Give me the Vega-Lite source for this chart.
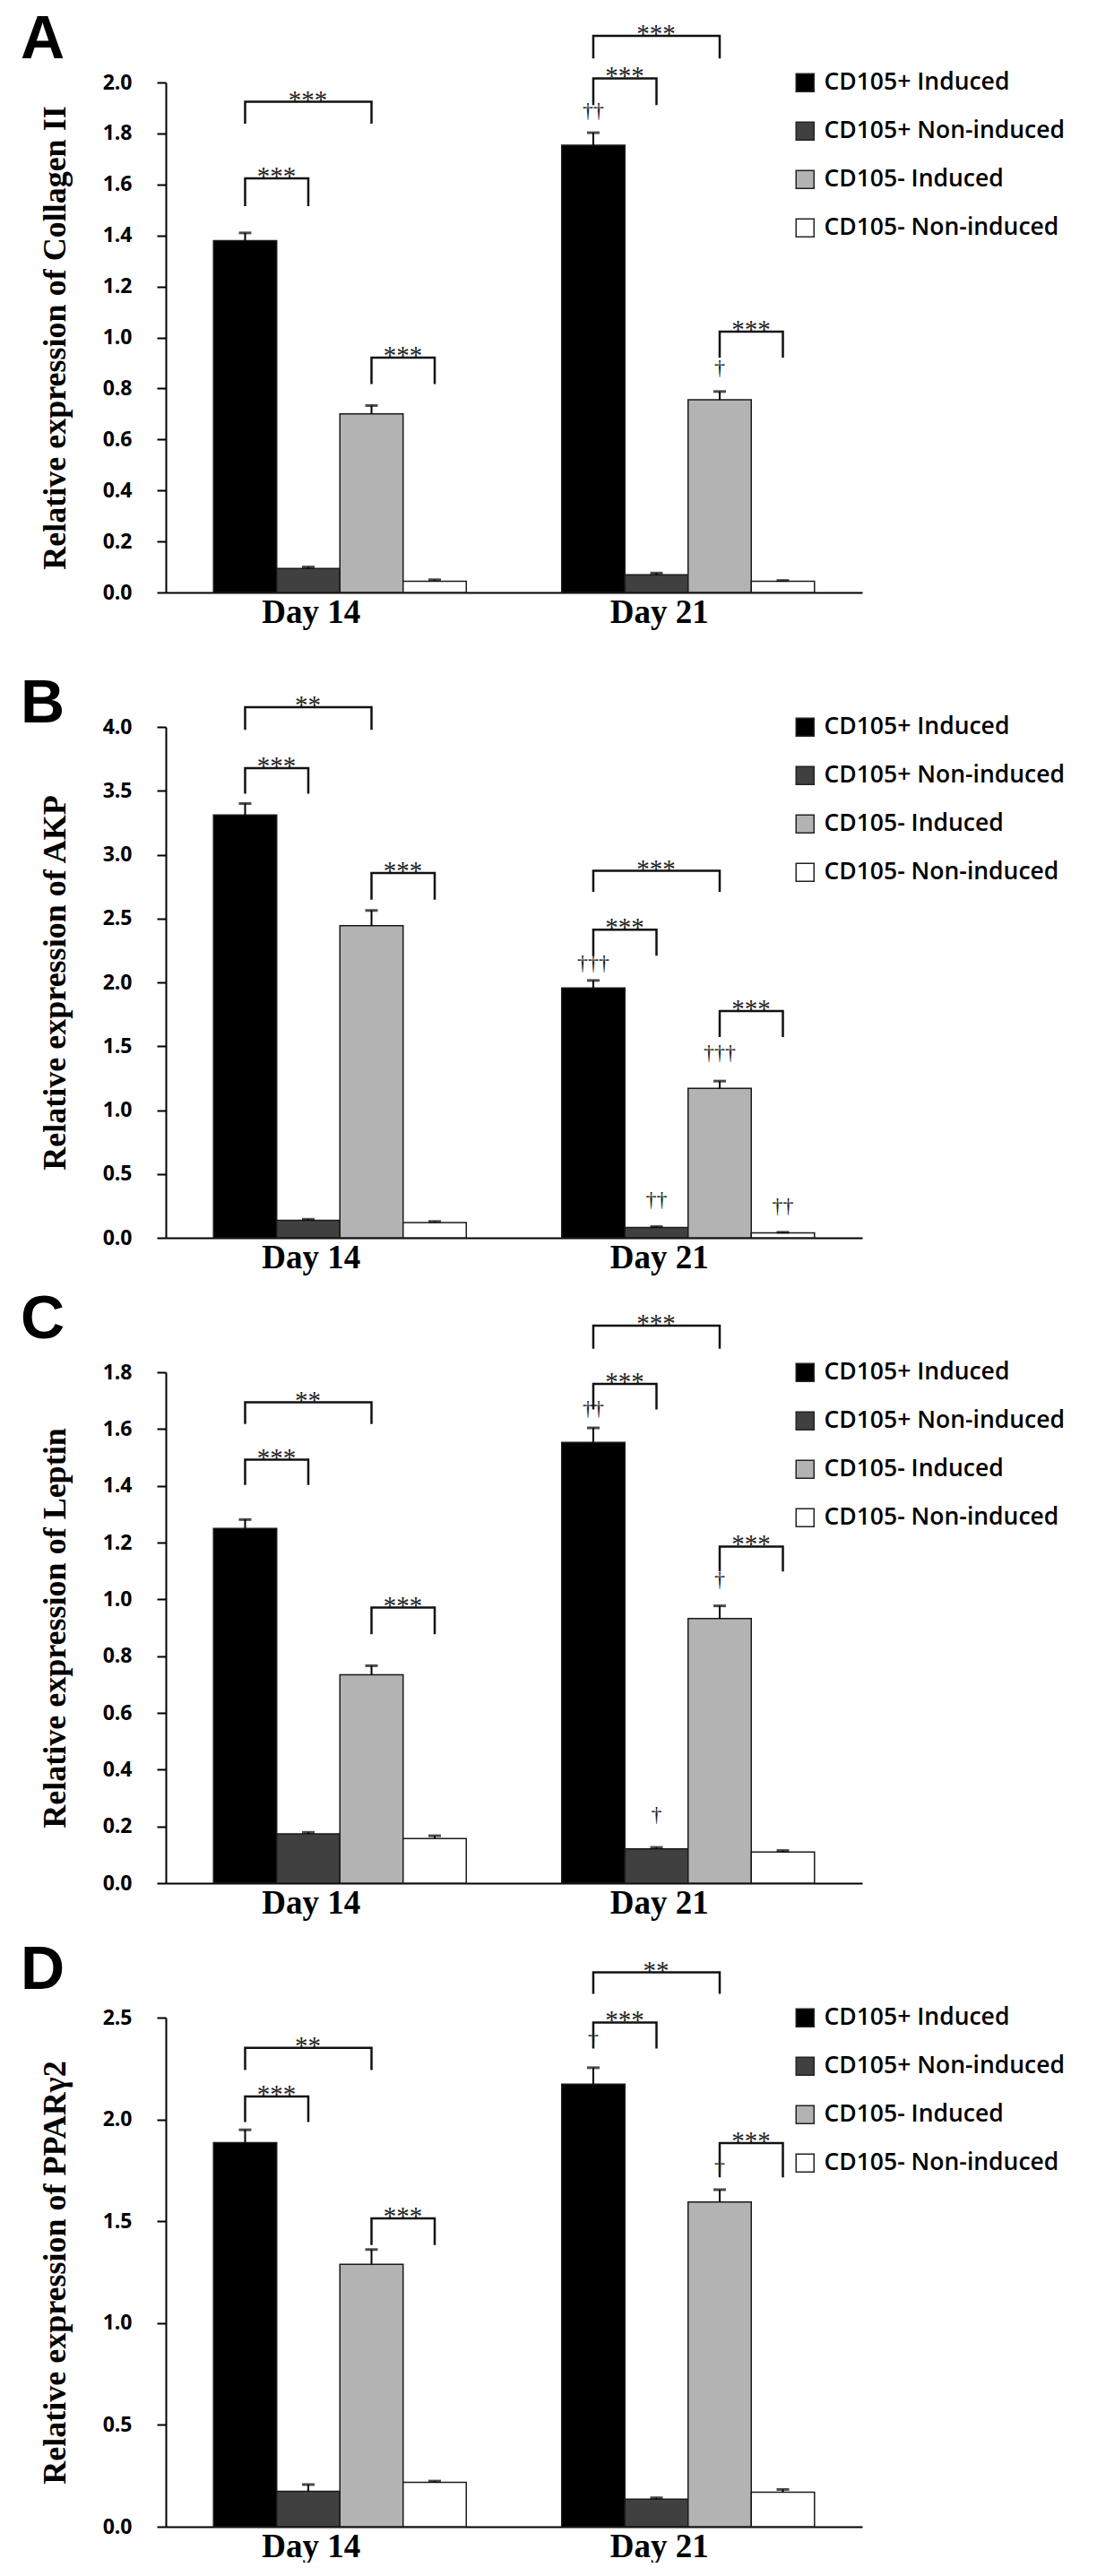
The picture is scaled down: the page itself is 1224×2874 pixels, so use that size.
{
  "$schema": "https://vega.github.io/schema/vega-lite/v6.json",
  "background": "white",
  "padding": {"left": 23, "top": 10, "right": 0, "bottom": 0},
  "datasets": {
    "bars": [
      {"panel": "A", "Day": "Day 14", "Group": "CD105+ Induced", "value": 1.38, "hi": 1.41},
      {"panel": "A", "Day": "Day 14", "Group": "CD105+ Non-induced", "value": 0.094, "hi": 0.1},
      {"panel": "A", "Day": "Day 14", "Group": "CD105- Induced", "value": 0.7, "hi": 0.733},
      {"panel": "A", "Day": "Day 14", "Group": "CD105- Non-induced", "value": 0.044, "hi": 0.05},
      {"panel": "A", "Day": "Day 21", "Group": "CD105+ Induced", "value": 1.754, "hi": 1.803},
      {"panel": "A", "Day": "Day 21", "Group": "CD105+ Non-induced", "value": 0.069, "hi": 0.076},
      {"panel": "A", "Day": "Day 21", "Group": "CD105- Induced", "value": 0.756, "hi": 0.788},
      {"panel": "A", "Day": "Day 21", "Group": "CD105- Non-induced", "value": 0.044, "hi": 0.047},
      {"panel": "B", "Day": "Day 14", "Group": "CD105+ Induced", "value": 3.31, "hi": 3.4},
      {"panel": "B", "Day": "Day 14", "Group": "CD105+ Non-induced", "value": 0.136, "hi": 0.145},
      {"panel": "B", "Day": "Day 14", "Group": "CD105- Induced", "value": 2.444, "hi": 2.563},
      {"panel": "B", "Day": "Day 14", "Group": "CD105- Non-induced", "value": 0.12, "hi": 0.128},
      {"panel": "B", "Day": "Day 21", "Group": "CD105+ Induced", "value": 1.956, "hi": 2.015},
      {"panel": "B", "Day": "Day 21", "Group": "CD105+ Non-induced", "value": 0.081, "hi": 0.088},
      {"panel": "B", "Day": "Day 21", "Group": "CD105- Induced", "value": 1.17, "hi": 1.227},
      {"panel": "B", "Day": "Day 21", "Group": "CD105- Non-induced", "value": 0.039, "hi": 0.043},
      {"panel": "C", "Day": "Day 14", "Group": "CD105+ Induced", "value": 1.25, "hi": 1.281},
      {"panel": "C", "Day": "Day 14", "Group": "CD105+ Non-induced", "value": 0.174, "hi": 0.179},
      {"panel": "C", "Day": "Day 14", "Group": "CD105- Induced", "value": 0.734, "hi": 0.766},
      {"panel": "C", "Day": "Day 14", "Group": "CD105- Non-induced", "value": 0.157, "hi": 0.167},
      {"panel": "C", "Day": "Day 21", "Group": "CD105+ Induced", "value": 1.553, "hi": 1.604},
      {"panel": "C", "Day": "Day 21", "Group": "CD105+ Non-induced", "value": 0.121, "hi": 0.126},
      {"panel": "C", "Day": "Day 21", "Group": "CD105- Induced", "value": 0.932, "hi": 0.977},
      {"panel": "C", "Day": "Day 21", "Group": "CD105- Non-induced", "value": 0.11, "hi": 0.115},
      {"panel": "D", "Day": "Day 14", "Group": "CD105+ Induced", "value": 1.886, "hi": 1.949},
      {"panel": "D", "Day": "Day 14", "Group": "CD105+ Non-induced", "value": 0.174, "hi": 0.207},
      {"panel": "D", "Day": "Day 14", "Group": "CD105- Induced", "value": 1.289, "hi": 1.361},
      {"panel": "D", "Day": "Day 14", "Group": "CD105- Non-induced", "value": 0.218, "hi": 0.224},
      {"panel": "D", "Day": "Day 21", "Group": "CD105+ Induced", "value": 2.173, "hi": 2.254},
      {"panel": "D", "Day": "Day 21", "Group": "CD105+ Non-induced", "value": 0.135, "hi": 0.142},
      {"panel": "D", "Day": "Day 21", "Group": "CD105- Induced", "value": 1.594, "hi": 1.655},
      {"panel": "D", "Day": "Day 21", "Group": "CD105- Non-induced", "value": 0.17, "hi": 0.183}
    ],
    "brackets": [
      {"panel": "A", "Day": "Day 14", "id": "A14a", "Group": "CD105+ Induced", "level": 1.515, "ord": 1},
      {"panel": "A", "Day": "Day 14", "id": "A14a", "Group": "CD105+ Induced", "level": 1.624, "ord": 2},
      {"panel": "A", "Day": "Day 14", "id": "A14a", "Group": "CD105+ Non-induced", "level": 1.624, "ord": 3},
      {"panel": "A", "Day": "Day 14", "id": "A14a", "Group": "CD105+ Non-induced", "level": 1.515, "ord": 4},
      {"panel": "A", "Day": "Day 14", "id": "A14b", "Group": "CD105+ Induced", "level": 1.838, "ord": 1},
      {"panel": "A", "Day": "Day 14", "id": "A14b", "Group": "CD105+ Induced", "level": 1.924, "ord": 2},
      {"panel": "A", "Day": "Day 14", "id": "A14b", "Group": "CD105- Induced", "level": 1.924, "ord": 3},
      {"panel": "A", "Day": "Day 14", "id": "A14b", "Group": "CD105- Induced", "level": 1.838, "ord": 4},
      {"panel": "A", "Day": "Day 14", "id": "A14c", "Group": "CD105- Induced", "level": 0.817, "ord": 1},
      {"panel": "A", "Day": "Day 14", "id": "A14c", "Group": "CD105- Induced", "level": 0.921, "ord": 2},
      {"panel": "A", "Day": "Day 14", "id": "A14c", "Group": "CD105- Non-induced", "level": 0.921, "ord": 3},
      {"panel": "A", "Day": "Day 14", "id": "A14c", "Group": "CD105- Non-induced", "level": 0.817, "ord": 4},
      {"panel": "A", "Day": "Day 21", "id": "A21a", "Group": "CD105+ Induced", "level": 1.911, "ord": 1},
      {"panel": "A", "Day": "Day 21", "id": "A21a", "Group": "CD105+ Induced", "level": 2.016, "ord": 2},
      {"panel": "A", "Day": "Day 21", "id": "A21a", "Group": "CD105+ Non-induced", "level": 2.016, "ord": 3},
      {"panel": "A", "Day": "Day 21", "id": "A21a", "Group": "CD105+ Non-induced", "level": 1.911, "ord": 4},
      {"panel": "A", "Day": "Day 21", "id": "A21b", "Group": "CD105+ Induced", "level": 2.094, "ord": 1},
      {"panel": "A", "Day": "Day 21", "id": "A21b", "Group": "CD105+ Induced", "level": 2.183, "ord": 2},
      {"panel": "A", "Day": "Day 21", "id": "A21b", "Group": "CD105- Induced", "level": 2.183, "ord": 3},
      {"panel": "A", "Day": "Day 21", "id": "A21b", "Group": "CD105- Induced", "level": 2.094, "ord": 4},
      {"panel": "A", "Day": "Day 21", "id": "A21c", "Group": "CD105- Induced", "level": 0.921, "ord": 1},
      {"panel": "A", "Day": "Day 21", "id": "A21c", "Group": "CD105- Induced", "level": 1.023, "ord": 2},
      {"panel": "A", "Day": "Day 21", "id": "A21c", "Group": "CD105- Non-induced", "level": 1.023, "ord": 3},
      {"panel": "A", "Day": "Day 21", "id": "A21c", "Group": "CD105- Non-induced", "level": 0.921, "ord": 4},
      {"panel": "B", "Day": "Day 14", "id": "B14a", "Group": "CD105+ Induced", "level": 3.477, "ord": 1},
      {"panel": "B", "Day": "Day 14", "id": "B14a", "Group": "CD105+ Induced", "level": 3.677, "ord": 2},
      {"panel": "B", "Day": "Day 14", "id": "B14a", "Group": "CD105+ Non-induced", "level": 3.677, "ord": 3},
      {"panel": "B", "Day": "Day 14", "id": "B14a", "Group": "CD105+ Non-induced", "level": 3.477, "ord": 4},
      {"panel": "B", "Day": "Day 14", "id": "B14b", "Group": "CD105+ Induced", "level": 3.977, "ord": 1},
      {"panel": "B", "Day": "Day 14", "id": "B14b", "Group": "CD105+ Induced", "level": 4.155, "ord": 2},
      {"panel": "B", "Day": "Day 14", "id": "B14b", "Group": "CD105- Induced", "level": 4.155, "ord": 3},
      {"panel": "B", "Day": "Day 14", "id": "B14b", "Group": "CD105- Induced", "level": 3.977, "ord": 4},
      {"panel": "B", "Day": "Day 14", "id": "B14c", "Group": "CD105- Induced", "level": 2.647, "ord": 1},
      {"panel": "B", "Day": "Day 14", "id": "B14c", "Group": "CD105- Induced", "level": 2.857, "ord": 2},
      {"panel": "B", "Day": "Day 14", "id": "B14c", "Group": "CD105- Non-induced", "level": 2.857, "ord": 3},
      {"panel": "B", "Day": "Day 14", "id": "B14c", "Group": "CD105- Non-induced", "level": 2.647, "ord": 4},
      {"panel": "B", "Day": "Day 21", "id": "B21a", "Group": "CD105+ Induced", "level": 2.208, "ord": 1},
      {"panel": "B", "Day": "Day 21", "id": "B21a", "Group": "CD105+ Induced", "level": 2.412, "ord": 2},
      {"panel": "B", "Day": "Day 21", "id": "B21a", "Group": "CD105+ Non-induced", "level": 2.412, "ord": 3},
      {"panel": "B", "Day": "Day 21", "id": "B21a", "Group": "CD105+ Non-induced", "level": 2.208, "ord": 4},
      {"panel": "B", "Day": "Day 21", "id": "B21b", "Group": "CD105+ Induced", "level": 2.709, "ord": 1},
      {"panel": "B", "Day": "Day 21", "id": "B21b", "Group": "CD105+ Induced", "level": 2.873, "ord": 2},
      {"panel": "B", "Day": "Day 21", "id": "B21b", "Group": "CD105- Induced", "level": 2.873, "ord": 3},
      {"panel": "B", "Day": "Day 21", "id": "B21b", "Group": "CD105- Induced", "level": 2.709, "ord": 4},
      {"panel": "B", "Day": "Day 21", "id": "B21c", "Group": "CD105- Induced", "level": 1.572, "ord": 1},
      {"panel": "B", "Day": "Day 21", "id": "B21c", "Group": "CD105- Induced", "level": 1.776, "ord": 2},
      {"panel": "B", "Day": "Day 21", "id": "B21c", "Group": "CD105- Non-induced", "level": 1.776, "ord": 3},
      {"panel": "B", "Day": "Day 21", "id": "B21c", "Group": "CD105- Non-induced", "level": 1.572, "ord": 4},
      {"panel": "C", "Day": "Day 14", "id": "C14a", "Group": "CD105+ Induced", "level": 1.403, "ord": 1},
      {"panel": "C", "Day": "Day 14", "id": "C14a", "Group": "CD105+ Induced", "level": 1.492, "ord": 2},
      {"panel": "C", "Day": "Day 14", "id": "C14a", "Group": "CD105+ Non-induced", "level": 1.492, "ord": 3},
      {"panel": "C", "Day": "Day 14", "id": "C14a", "Group": "CD105+ Non-induced", "level": 1.403, "ord": 4},
      {"panel": "C", "Day": "Day 14", "id": "C14b", "Group": "CD105+ Induced", "level": 1.618, "ord": 1},
      {"panel": "C", "Day": "Day 14", "id": "C14b", "Group": "CD105+ Induced", "level": 1.694, "ord": 2},
      {"panel": "C", "Day": "Day 14", "id": "C14b", "Group": "CD105- Induced", "level": 1.694, "ord": 3},
      {"panel": "C", "Day": "Day 14", "id": "C14b", "Group": "CD105- Induced", "level": 1.618, "ord": 4},
      {"panel": "C", "Day": "Day 14", "id": "C14c", "Group": "CD105- Induced", "level": 0.877, "ord": 1},
      {"panel": "C", "Day": "Day 14", "id": "C14c", "Group": "CD105- Induced", "level": 0.971, "ord": 2},
      {"panel": "C", "Day": "Day 14", "id": "C14c", "Group": "CD105- Non-induced", "level": 0.971, "ord": 3},
      {"panel": "C", "Day": "Day 14", "id": "C14c", "Group": "CD105- Non-induced", "level": 0.877, "ord": 4},
      {"panel": "C", "Day": "Day 21", "id": "C21a", "Group": "CD105+ Induced", "level": 1.669, "ord": 1},
      {"panel": "C", "Day": "Day 21", "id": "C21a", "Group": "CD105+ Induced", "level": 1.759, "ord": 2},
      {"panel": "C", "Day": "Day 21", "id": "C21a", "Group": "CD105+ Non-induced", "level": 1.759, "ord": 3},
      {"panel": "C", "Day": "Day 21", "id": "C21a", "Group": "CD105+ Non-induced", "level": 1.669, "ord": 4},
      {"panel": "C", "Day": "Day 21", "id": "C21b", "Group": "CD105+ Induced", "level": 1.883, "ord": 1},
      {"panel": "C", "Day": "Day 21", "id": "C21b", "Group": "CD105+ Induced", "level": 1.964, "ord": 2},
      {"panel": "C", "Day": "Day 21", "id": "C21b", "Group": "CD105- Induced", "level": 1.964, "ord": 3},
      {"panel": "C", "Day": "Day 21", "id": "C21b", "Group": "CD105- Induced", "level": 1.883, "ord": 4},
      {"panel": "C", "Day": "Day 21", "id": "C21c", "Group": "CD105- Induced", "level": 1.098, "ord": 1},
      {"panel": "C", "Day": "Day 21", "id": "C21c", "Group": "CD105- Induced", "level": 1.186, "ord": 2},
      {"panel": "C", "Day": "Day 21", "id": "C21c", "Group": "CD105- Non-induced", "level": 1.186, "ord": 3},
      {"panel": "C", "Day": "Day 21", "id": "C21c", "Group": "CD105- Non-induced", "level": 1.098, "ord": 4},
      {"panel": "D", "Day": "Day 14", "id": "D14a", "Group": "CD105+ Induced", "level": 1.987, "ord": 1},
      {"panel": "D", "Day": "Day 14", "id": "D14a", "Group": "CD105+ Induced", "level": 2.113, "ord": 2},
      {"panel": "D", "Day": "Day 14", "id": "D14a", "Group": "CD105+ Non-induced", "level": 2.113, "ord": 3},
      {"panel": "D", "Day": "Day 14", "id": "D14a", "Group": "CD105+ Non-induced", "level": 1.987, "ord": 4},
      {"panel": "D", "Day": "Day 14", "id": "D14b", "Group": "CD105+ Induced", "level": 2.243, "ord": 1},
      {"panel": "D", "Day": "Day 14", "id": "D14b", "Group": "CD105+ Induced", "level": 2.352, "ord": 2},
      {"panel": "D", "Day": "Day 14", "id": "D14b", "Group": "CD105- Induced", "level": 2.352, "ord": 3},
      {"panel": "D", "Day": "Day 14", "id": "D14b", "Group": "CD105- Induced", "level": 2.243, "ord": 4},
      {"panel": "D", "Day": "Day 14", "id": "D14c", "Group": "CD105- Induced", "level": 1.383, "ord": 1},
      {"panel": "D", "Day": "Day 14", "id": "D14c", "Group": "CD105- Induced", "level": 1.514, "ord": 2},
      {"panel": "D", "Day": "Day 14", "id": "D14c", "Group": "CD105- Non-induced", "level": 1.514, "ord": 3},
      {"panel": "D", "Day": "Day 14", "id": "D14c", "Group": "CD105- Non-induced", "level": 1.383, "ord": 4},
      {"panel": "D", "Day": "Day 21", "id": "D21a", "Group": "CD105+ Induced", "level": 2.348, "ord": 1},
      {"panel": "D", "Day": "Day 21", "id": "D21a", "Group": "CD105+ Induced", "level": 2.476, "ord": 2},
      {"panel": "D", "Day": "Day 21", "id": "D21a", "Group": "CD105+ Non-induced", "level": 2.476, "ord": 3},
      {"panel": "D", "Day": "Day 21", "id": "D21a", "Group": "CD105+ Non-induced", "level": 2.348, "ord": 4},
      {"panel": "D", "Day": "Day 21", "id": "D21b", "Group": "CD105+ Induced", "level": 2.617, "ord": 1},
      {"panel": "D", "Day": "Day 21", "id": "D21b", "Group": "CD105+ Induced", "level": 2.722, "ord": 2},
      {"panel": "D", "Day": "Day 21", "id": "D21b", "Group": "CD105- Induced", "level": 2.722, "ord": 3},
      {"panel": "D", "Day": "Day 21", "id": "D21b", "Group": "CD105- Induced", "level": 2.617, "ord": 4},
      {"panel": "D", "Day": "Day 21", "id": "D21c", "Group": "CD105- Induced", "level": 1.716, "ord": 1},
      {"panel": "D", "Day": "Day 21", "id": "D21c", "Group": "CD105- Induced", "level": 1.884, "ord": 2},
      {"panel": "D", "Day": "Day 21", "id": "D21c", "Group": "CD105- Non-induced", "level": 1.884, "ord": 3},
      {"panel": "D", "Day": "Day 21", "id": "D21c", "Group": "CD105- Non-induced", "level": 1.716, "ord": 4}
    ],
    "stars": [
      {"panel": "A", "Day": "Day 14", "Group": "CD105+ Induced", "span": 1, "level": 1.624, "label": "***"},
      {"panel": "A", "Day": "Day 14", "Group": "CD105+ Induced", "span": 2, "level": 1.924, "label": "***"},
      {"panel": "A", "Day": "Day 14", "Group": "CD105- Induced", "span": 1, "level": 0.921, "label": "***"},
      {"panel": "A", "Day": "Day 21", "Group": "CD105+ Induced", "span": 1, "level": 2.016, "label": "***"},
      {"panel": "A", "Day": "Day 21", "Group": "CD105+ Induced", "span": 2, "level": 2.183, "label": "***"},
      {"panel": "A", "Day": "Day 21", "Group": "CD105- Induced", "span": 1, "level": 1.023, "label": "***"},
      {"panel": "B", "Day": "Day 14", "Group": "CD105+ Induced", "span": 1, "level": 3.677, "label": "***"},
      {"panel": "B", "Day": "Day 14", "Group": "CD105+ Induced", "span": 2, "level": 4.155, "label": "**"},
      {"panel": "B", "Day": "Day 14", "Group": "CD105- Induced", "span": 1, "level": 2.857, "label": "***"},
      {"panel": "B", "Day": "Day 21", "Group": "CD105+ Induced", "span": 1, "level": 2.412, "label": "***"},
      {"panel": "B", "Day": "Day 21", "Group": "CD105+ Induced", "span": 2, "level": 2.873, "label": "***"},
      {"panel": "B", "Day": "Day 21", "Group": "CD105- Induced", "span": 1, "level": 1.776, "label": "***"},
      {"panel": "C", "Day": "Day 14", "Group": "CD105+ Induced", "span": 1, "level": 1.492, "label": "***"},
      {"panel": "C", "Day": "Day 14", "Group": "CD105+ Induced", "span": 2, "level": 1.694, "label": "**"},
      {"panel": "C", "Day": "Day 14", "Group": "CD105- Induced", "span": 1, "level": 0.971, "label": "***"},
      {"panel": "C", "Day": "Day 21", "Group": "CD105+ Induced", "span": 1, "level": 1.759, "label": "***"},
      {"panel": "C", "Day": "Day 21", "Group": "CD105+ Induced", "span": 2, "level": 1.964, "label": "***"},
      {"panel": "C", "Day": "Day 21", "Group": "CD105- Induced", "span": 1, "level": 1.186, "label": "***"},
      {"panel": "D", "Day": "Day 14", "Group": "CD105+ Induced", "span": 1, "level": 2.113, "label": "***"},
      {"panel": "D", "Day": "Day 14", "Group": "CD105+ Induced", "span": 2, "level": 2.352, "label": "**"},
      {"panel": "D", "Day": "Day 14", "Group": "CD105- Induced", "span": 1, "level": 1.514, "label": "***"},
      {"panel": "D", "Day": "Day 21", "Group": "CD105+ Induced", "span": 1, "level": 2.476, "label": "***"},
      {"panel": "D", "Day": "Day 21", "Group": "CD105+ Induced", "span": 2, "level": 2.722, "label": "**"},
      {"panel": "D", "Day": "Day 21", "Group": "CD105- Induced", "span": 1, "level": 1.884, "label": "***"}
    ],
    "daggers": [
      {"panel": "A", "Day": "Day 21", "Group": "CD105+ Induced", "level": 1.887, "label": "††"},
      {"panel": "A", "Day": "Day 21", "Group": "CD105- Induced", "level": 0.877, "label": "†"},
      {"panel": "B", "Day": "Day 21", "Group": "CD105+ Induced", "level": 2.147, "label": "†††"},
      {"panel": "B", "Day": "Day 21", "Group": "CD105+ Non-induced", "level": 0.297, "label": "††"},
      {"panel": "B", "Day": "Day 21", "Group": "CD105- Induced", "level": 1.443, "label": "†††"},
      {"panel": "B", "Day": "Day 21", "Group": "CD105- Non-induced", "level": 0.249, "label": "††"},
      {"panel": "C", "Day": "Day 21", "Group": "CD105+ Induced", "level": 1.669, "label": "††"},
      {"panel": "C", "Day": "Day 21", "Group": "CD105+ Non-induced", "level": 0.24, "label": "†"},
      {"panel": "C", "Day": "Day 21", "Group": "CD105- Induced", "level": 1.066, "label": "†"},
      {"panel": "D", "Day": "Day 21", "Group": "CD105+ Induced", "level": 2.395, "label": "†"},
      {"panel": "D", "Day": "Day 21", "Group": "CD105- Induced", "level": 1.764, "label": "†"}
    ]
  },
  "vconcat": [
    {
      "title": {"text": "A", "offset": -55},
      "width": 777,
      "height": 569,
      "encoding": {
        "x": {"field": "Day", "type": "nominal", "title": null, "scale": {"paddingInner": 0.274, "paddingOuter": 0.137}},
        "xOffset": {"field": "Group", "type": "nominal", "scale": {"domain": ["CD105+ Induced", "CD105+ Non-induced", "CD105- Induced", "CD105- Non-induced"], "paddingInner": 0, "paddingOuter": 0}}
      },
      "layer": [
        {
          "data": {"name": "bars"},
          "transform": [{"filter": "datum.panel == 'A'"}],
          "mark": {"type": "bar", "stroke": "#1a1a1a", "strokeWidth": 1.5},
          "encoding": {
            "y": {"field": "value", "type": "quantitative", "title": "Relative expression of Collagen II", "scale": {"domain": [0, 2], "nice": false}, "axis": {"values": [0, 0.2, 0.4, 0.6, 0.8, 1, 1.2, 1.4, 1.6, 1.8, 2], "format": ".1f"}},
            "color": {"field": "Group", "type": "nominal", "title": null, "scale": {"domain": ["CD105+ Induced", "CD105+ Non-induced", "CD105- Induced", "CD105- Non-induced"], "range": ["#000000", "#404040", "#b3b3b3", "#ffffff"]}}
          }
        },
        {
          "data": {"name": "bars"},
          "transform": [{"filter": "datum.panel == 'A'"}],
          "mark": {"type": "rule", "color": "#000000", "strokeWidth": 2},
          "encoding": {"y": {"field": "value", "type": "quantitative"}, "y2": {"field": "hi"}}
        },
        {
          "data": {"name": "bars"},
          "transform": [{"filter": "datum.panel == 'A'"}],
          "mark": {"type": "tick", "color": "#000000", "thickness": 3, "size": 14},
          "encoding": {"y": {"field": "hi", "type": "quantitative"}}
        },
        {
          "data": {"name": "brackets"},
          "transform": [{"filter": "datum.panel == 'A'"}],
          "mark": {"type": "line", "color": "#111111", "strokeWidth": 2.5},
          "encoding": {"y": {"field": "level", "type": "quantitative"}, "detail": {"field": "id"}, "order": {"field": "ord"}}
        },
        {
          "data": {"name": "stars"},
          "transform": [{"filter": "datum.panel == 'A' && datum.span == 1"}],
          "mark": {"type": "text", "font": "Liberation Serif", "fontSize": 29, "baseline": "alphabetic", "dx": 35, "dy": 7, "color": "#222222"},
          "encoding": {"y": {"field": "level", "type": "quantitative"}, "text": {"field": "label"}}
        },
        {
          "data": {"name": "stars"},
          "transform": [{"filter": "datum.panel == 'A' && datum.span == 2"}],
          "mark": {"type": "text", "font": "Liberation Serif", "fontSize": 29, "baseline": "alphabetic", "dx": 70, "dy": 7, "color": "#222222"},
          "encoding": {"y": {"field": "level", "type": "quantitative"}, "text": {"field": "label"}}
        },
        {
          "data": {"name": "daggers"},
          "transform": [{"filter": "datum.panel == 'A'"}],
          "mark": {"type": "text", "font": "Liberation Serif", "fontSize": 24, "baseline": "middle", "color": "#222222"},
          "encoding": {"y": {"field": "level", "type": "quantitative"}, "text": {"field": "label"}}
        }
      ]
    },
    {
      "title": {"text": "B", "offset": -47},
      "width": 777,
      "height": 570,
      "encoding": {
        "x": {"field": "Day", "type": "nominal", "title": null, "scale": {"paddingInner": 0.274, "paddingOuter": 0.137}},
        "xOffset": {"field": "Group", "type": "nominal", "scale": {"domain": ["CD105+ Induced", "CD105+ Non-induced", "CD105- Induced", "CD105- Non-induced"], "paddingInner": 0, "paddingOuter": 0}}
      },
      "layer": [
        {
          "data": {"name": "bars"},
          "transform": [{"filter": "datum.panel == 'B'"}],
          "mark": {"type": "bar", "stroke": "#1a1a1a", "strokeWidth": 1.5},
          "encoding": {
            "y": {"field": "value", "type": "quantitative", "title": "Relative expression of AKP", "scale": {"domain": [0, 4], "nice": false}, "axis": {"values": [0, 0.5, 1, 1.5, 2, 2.5, 3, 3.5, 4], "format": ".1f"}},
            "color": {"field": "Group", "type": "nominal", "title": null, "scale": {"domain": ["CD105+ Induced", "CD105+ Non-induced", "CD105- Induced", "CD105- Non-induced"], "range": ["#000000", "#404040", "#b3b3b3", "#ffffff"]}}
          }
        },
        {
          "data": {"name": "bars"},
          "transform": [{"filter": "datum.panel == 'B'"}],
          "mark": {"type": "rule", "color": "#000000", "strokeWidth": 2},
          "encoding": {"y": {"field": "value", "type": "quantitative"}, "y2": {"field": "hi"}}
        },
        {
          "data": {"name": "bars"},
          "transform": [{"filter": "datum.panel == 'B'"}],
          "mark": {"type": "tick", "color": "#000000", "thickness": 3, "size": 14},
          "encoding": {"y": {"field": "hi", "type": "quantitative"}}
        },
        {
          "data": {"name": "brackets"},
          "transform": [{"filter": "datum.panel == 'B'"}],
          "mark": {"type": "line", "color": "#111111", "strokeWidth": 2.5},
          "encoding": {"y": {"field": "level", "type": "quantitative"}, "detail": {"field": "id"}, "order": {"field": "ord"}}
        },
        {
          "data": {"name": "stars"},
          "transform": [{"filter": "datum.panel == 'B' && datum.span == 1"}],
          "mark": {"type": "text", "font": "Liberation Serif", "fontSize": 29, "baseline": "alphabetic", "dx": 35, "dy": 7, "color": "#222222"},
          "encoding": {"y": {"field": "level", "type": "quantitative"}, "text": {"field": "label"}}
        },
        {
          "data": {"name": "stars"},
          "transform": [{"filter": "datum.panel == 'B' && datum.span == 2"}],
          "mark": {"type": "text", "font": "Liberation Serif", "fontSize": 29, "baseline": "alphabetic", "dx": 70, "dy": 7, "color": "#222222"},
          "encoding": {"y": {"field": "level", "type": "quantitative"}, "text": {"field": "label"}}
        },
        {
          "data": {"name": "daggers"},
          "transform": [{"filter": "datum.panel == 'B'"}],
          "mark": {"type": "text", "font": "Liberation Serif", "fontSize": 24, "baseline": "middle", "color": "#222222"},
          "encoding": {"y": {"field": "level", "type": "quantitative"}, "text": {"field": "label"}}
        }
      ]
    },
    {
      "title": {"text": "C", "offset": -44},
      "width": 777,
      "height": 570,
      "encoding": {
        "x": {"field": "Day", "type": "nominal", "title": null, "scale": {"paddingInner": 0.274, "paddingOuter": 0.137}},
        "xOffset": {"field": "Group", "type": "nominal", "scale": {"domain": ["CD105+ Induced", "CD105+ Non-induced", "CD105- Induced", "CD105- Non-induced"], "paddingInner": 0, "paddingOuter": 0}}
      },
      "layer": [
        {
          "data": {"name": "bars"},
          "transform": [{"filter": "datum.panel == 'C'"}],
          "mark": {"type": "bar", "stroke": "#1a1a1a", "strokeWidth": 1.5},
          "encoding": {
            "y": {"field": "value", "type": "quantitative", "title": "Relative expression of Leptin", "scale": {"domain": [0, 1.8], "nice": false}, "axis": {"values": [0, 0.2, 0.4, 0.6, 0.8, 1, 1.2, 1.4, 1.6, 1.8], "format": ".1f"}},
            "color": {"field": "Group", "type": "nominal", "title": null, "scale": {"domain": ["CD105+ Induced", "CD105+ Non-induced", "CD105- Induced", "CD105- Non-induced"], "range": ["#000000", "#404040", "#b3b3b3", "#ffffff"]}}
          }
        },
        {
          "data": {"name": "bars"},
          "transform": [{"filter": "datum.panel == 'C'"}],
          "mark": {"type": "rule", "color": "#000000", "strokeWidth": 2},
          "encoding": {"y": {"field": "value", "type": "quantitative"}, "y2": {"field": "hi"}}
        },
        {
          "data": {"name": "bars"},
          "transform": [{"filter": "datum.panel == 'C'"}],
          "mark": {"type": "tick", "color": "#000000", "thickness": 3, "size": 14},
          "encoding": {"y": {"field": "hi", "type": "quantitative"}}
        },
        {
          "data": {"name": "brackets"},
          "transform": [{"filter": "datum.panel == 'C'"}],
          "mark": {"type": "line", "color": "#111111", "strokeWidth": 2.5},
          "encoding": {"y": {"field": "level", "type": "quantitative"}, "detail": {"field": "id"}, "order": {"field": "ord"}}
        },
        {
          "data": {"name": "stars"},
          "transform": [{"filter": "datum.panel == 'C' && datum.span == 1"}],
          "mark": {"type": "text", "font": "Liberation Serif", "fontSize": 29, "baseline": "alphabetic", "dx": 35, "dy": 7, "color": "#222222"},
          "encoding": {"y": {"field": "level", "type": "quantitative"}, "text": {"field": "label"}}
        },
        {
          "data": {"name": "stars"},
          "transform": [{"filter": "datum.panel == 'C' && datum.span == 2"}],
          "mark": {"type": "text", "font": "Liberation Serif", "fontSize": 29, "baseline": "alphabetic", "dx": 70, "dy": 7, "color": "#222222"},
          "encoding": {"y": {"field": "level", "type": "quantitative"}, "text": {"field": "label"}}
        },
        {
          "data": {"name": "daggers"},
          "transform": [{"filter": "datum.panel == 'C'"}],
          "mark": {"type": "text", "font": "Liberation Serif", "fontSize": 24, "baseline": "middle", "color": "#222222"},
          "encoding": {"y": {"field": "level", "type": "quantitative"}, "text": {"field": "label"}}
        }
      ]
    },
    {
      "title": {"text": "D", "offset": -48},
      "width": 777,
      "height": 568,
      "encoding": {
        "x": {"field": "Day", "type": "nominal", "title": null, "scale": {"paddingInner": 0.274, "paddingOuter": 0.137}},
        "xOffset": {"field": "Group", "type": "nominal", "scale": {"domain": ["CD105+ Induced", "CD105+ Non-induced", "CD105- Induced", "CD105- Non-induced"], "paddingInner": 0, "paddingOuter": 0}}
      },
      "layer": [
        {
          "data": {"name": "bars"},
          "transform": [{"filter": "datum.panel == 'D'"}],
          "mark": {"type": "bar", "stroke": "#1a1a1a", "strokeWidth": 1.5},
          "encoding": {
            "y": {"field": "value", "type": "quantitative", "title": "Relative expression of PPARγ2", "scale": {"domain": [0, 2.5], "nice": false}, "axis": {"values": [0, 0.5, 1, 1.5, 2, 2.5], "format": ".1f"}},
            "color": {"field": "Group", "type": "nominal", "title": null, "scale": {"domain": ["CD105+ Induced", "CD105+ Non-induced", "CD105- Induced", "CD105- Non-induced"], "range": ["#000000", "#404040", "#b3b3b3", "#ffffff"]}}
          }
        },
        {
          "data": {"name": "bars"},
          "transform": [{"filter": "datum.panel == 'D'"}],
          "mark": {"type": "rule", "color": "#000000", "strokeWidth": 2},
          "encoding": {"y": {"field": "value", "type": "quantitative"}, "y2": {"field": "hi"}}
        },
        {
          "data": {"name": "bars"},
          "transform": [{"filter": "datum.panel == 'D'"}],
          "mark": {"type": "tick", "color": "#000000", "thickness": 3, "size": 14},
          "encoding": {"y": {"field": "hi", "type": "quantitative"}}
        },
        {
          "data": {"name": "brackets"},
          "transform": [{"filter": "datum.panel == 'D'"}],
          "mark": {"type": "line", "color": "#111111", "strokeWidth": 2.5},
          "encoding": {"y": {"field": "level", "type": "quantitative"}, "detail": {"field": "id"}, "order": {"field": "ord"}}
        },
        {
          "data": {"name": "stars"},
          "transform": [{"filter": "datum.panel == 'D' && datum.span == 1"}],
          "mark": {"type": "text", "font": "Liberation Serif", "fontSize": 29, "baseline": "alphabetic", "dx": 35, "dy": 7, "color": "#222222"},
          "encoding": {"y": {"field": "level", "type": "quantitative"}, "text": {"field": "label"}}
        },
        {
          "data": {"name": "stars"},
          "transform": [{"filter": "datum.panel == 'D' && datum.span == 2"}],
          "mark": {"type": "text", "font": "Liberation Serif", "fontSize": 29, "baseline": "alphabetic", "dx": 70, "dy": 7, "color": "#222222"},
          "encoding": {"y": {"field": "level", "type": "quantitative"}, "text": {"field": "label"}}
        },
        {
          "data": {"name": "daggers"},
          "transform": [{"filter": "datum.panel == 'D'"}],
          "mark": {"type": "text", "font": "Liberation Serif", "fontSize": 24, "baseline": "middle", "color": "#222222"},
          "encoding": {"y": {"field": "level", "type": "quantitative"}, "text": {"field": "label"}}
        }
      ]
    }
  ],
  "spacing": 150,
  "bounds": "flush",
  "resolve": {
    "scale": {"x": "independent", "xOffset": "independent", "y": "independent", "color": "independent"},
    "axis": {"x": "independent", "y": "independent"},
    "legend": {"color": "independent"}
  },
  "config": {
    "view": {"stroke": null},
    "title": {"font": "Liberation Sans", "fontSize": 68, "fontWeight": "bold", "color": "#000000", "anchor": "start", "frame": "group", "dx": -162},
    "axisY": {
      "grid": false, "domainColor": "#000000", "domainWidth": 2, "tickColor": "#000000", "tickWidth": 2, "tickSize": 10,
      "labelFont": "Open Sans", "labelFontSize": 23, "labelFontWeight": "bold", "labelColor": "#000000", "labelPadding": 28,
      "titleFont": "Liberation Serif", "titleFontSize": 36, "titleFontWeight": "bold", "titleColor": "#000000", "titlePadding": 34
    },
    "axisX": {
      "grid": false, "domainColor": "#000000", "domainWidth": 2, "ticks": false, "labelAngle": 0, "labelOffset": -32,
      "labelFont": "Liberation Serif", "labelFontSize": 37, "labelFontWeight": "bold", "labelColor": "#000000", "labelPadding": 4
    },
    "legend": {
      "orient": "none", "legendX": 700, "legendY": -13, "direction": "vertical", "padding": 0,
      "labelFont": "Open Sans", "labelFontSize": 26.5, "labelFontWeight": 600, "labelColor": "#000000", "labelLimit": 400, "labelOffset": 8,
      "symbolType": "square", "symbolSize": 400, "symbolStrokeColor": "#222222", "symbolStrokeWidth": 1.5, "rowPadding": 27
    }
  }
}
